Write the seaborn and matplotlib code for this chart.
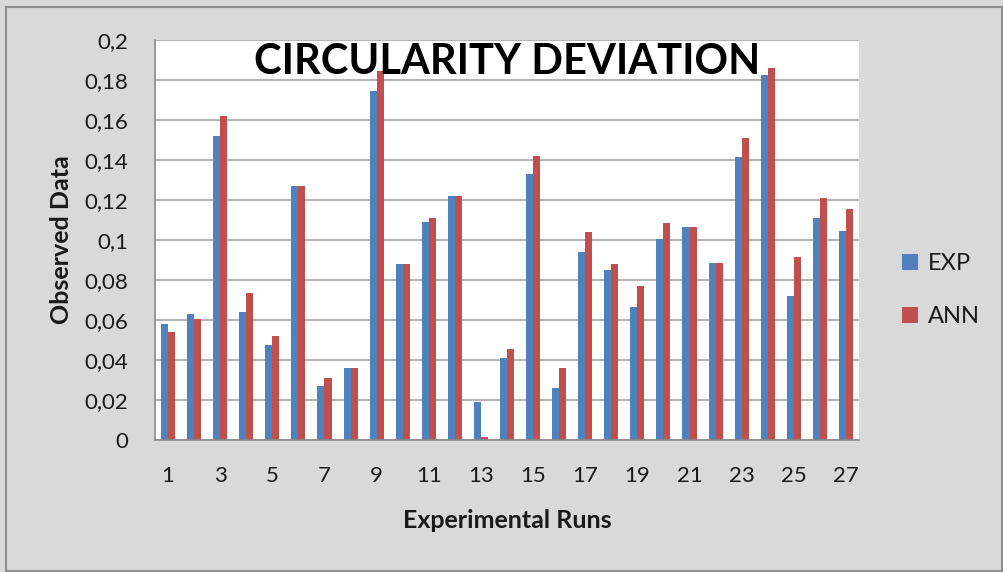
import matplotlib
matplotlib.use("Agg")
import matplotlib.pyplot as plt
import seaborn as sns
import pandas as pd
import numpy as np
from matplotlib.patches import Rectangle, Patch
from matplotlib.ticker import FuncFormatter, FixedLocator

runs = [str(i) for i in range(1, 28)]
exp_vals = [0.0578, 0.0628, 0.1522, 0.0642, 0.0477, 0.1270, 0.0268, 0.0362, 0.1745,
            0.0878, 0.1088, 0.1218, 0.0188, 0.0412, 0.1328, 0.0260, 0.0938, 0.0852,
            0.0663, 0.1005, 0.1067, 0.0887, 0.1413, 0.1825, 0.0722, 0.1110, 0.1047]
ann_vals = [0.0542, 0.0607, 0.1622, 0.0737, 0.0520, 0.1270, 0.0312, 0.0362, 0.1845,
            0.0878, 0.1110, 0.1218, 0.0015, 0.0455, 0.1422, 0.0362, 0.1040, 0.0878,
            0.0772, 0.1083, 0.1067, 0.0887, 0.1508, 0.1860, 0.0917, 0.1212, 0.1153]
series = ["EXP", "ANN"]
colors = ["#4f81bd", "#c0504d"]
title = "CIRCULARITY DEVIATION"
xlabel = "Experimental Runs"
ylabel = "Observed Data"
yticks = [0, 0.02, 0.04, 0.06, 0.08, 0.1, 0.12, 0.14, 0.16, 0.18, 0.2]

df = pd.DataFrame({
    "Run": runs * 2,
    "Value": exp_vals + ann_vals,
    "Series": ["EXP"] * len(runs) + ["ANN"] * len(runs),
})

sns.set_style("white")
plt.rcParams["font.family"] = ["Lato", "DejaVu Sans"]

W, H = 1004, 572
fig = plt.figure(figsize=(W / 100, H / 100), dpi=100)
fig.patch.set_facecolor("#d9d9d9")
fig.patches.append(Rectangle((6 / W, 1 - 571 / H), (1002 - 6) / W, (571 - 7) / H,
                             transform=fig.transFigure, fill=False,
                             edgecolor="#8c8c8c", linewidth=1.5))

ax = fig.add_axes([155 / W, 1 - 440 / H, (859 - 155) / W, 400 / H])
ax.set_facecolor("white")

sns.barplot(data=df, x="Run", y="Value", hue="Series", order=runs,
            hue_order=series, palette=colors, width=0.54, linewidth=0,
            saturation=1, ax=ax, legend=False)

ax.set_ylim(0, 0.2)
ax.set_xlim(-0.5, len(runs) - 0.5)
ax.yaxis.set_major_locator(FixedLocator(yticks))
ax.yaxis.set_major_formatter(FuncFormatter(lambda v, p: f"{round(v, 2):g}".replace(".", ",")))
ax.grid(axis="y", color="#a6a6a6", linewidth=1.2, zorder=0)
ax.set_axisbelow(True)

# x ticks: labels on odd runs, tick marks at category boundaries
ax.set_xticks(range(len(runs)))
ax.set_xticklabels([r if i % 2 == 0 else "" for i, r in enumerate(runs)])
ax.set_xticks(np.arange(-0.5, len(runs), 1.0), minor=True)
ax.tick_params(axis="x", which="major", length=0, pad=19, labelsize=16, labelcolor="#1a1a1a")
ax.tick_params(axis="x", which="minor", length=8, width=1.2, color="#8c8c8c", direction="out")
ax.tick_params(axis="y", which="major", length=7, width=1.2, color="#8c8c8c",
               direction="out", pad=12, labelsize=16, labelcolor="#1a1a1a")

for s in ["top", "right"]:
    ax.spines[s].set_visible(False)
for s in ["left", "bottom"]:
    ax.spines[s].set_color("#8c8c8c")
    ax.spines[s].set_linewidth(1.2)

ax.set_xlabel(xlabel, fontsize=18, fontweight="bold", color="#1a1a1a")
ax.xaxis.set_label_coords(0.5, (440 - 520) / 400)
ax.xaxis.label.set_va("center")
ax.set_ylabel(ylabel, fontsize=18, fontweight="bold", color="#1a1a1a")
ax.yaxis.set_label_coords((62 - 155) / 704, 0.5)
ax.yaxis.label.set_va("center")

ax.text(0.5, (440 - 62) / 400, title, transform=ax.transAxes, ha="center", va="center",
        fontsize=30, fontweight="bold", color="black", zorder=10)

handles = [Patch(facecolor=c, edgecolor="none", label=s) for s, c in zip(series, colors)]
fig.legend(handles=handles, loc="center left", bbox_to_anchor=(881 / W, 1 - 290 / H),
           frameon=False, fontsize=17, handlelength=0.65, handleheight=0.65,
           handletextpad=0.45, labelspacing=1.35, labelcolor="#1a1a1a")

fig.savefig("out.png", dpi=100, facecolor=fig.get_facecolor())
